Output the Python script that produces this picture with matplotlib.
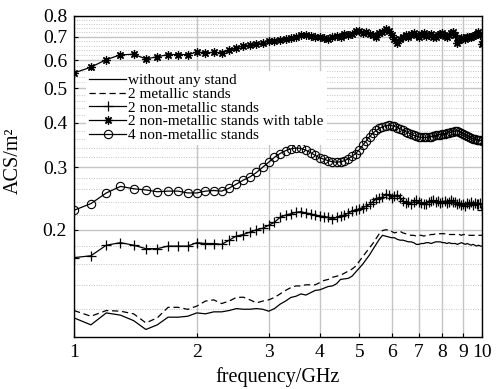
import numpy as np
import matplotlib
matplotlib.use('Agg')
import matplotlib.pyplot as plt
from matplotlib.ticker import FixedLocator, NullFormatter, FixedFormatter

plt.rcParams['font.family'] = ['Liberation Serif', 'DejaVu Serif']

# measurement grid, 1 GHz to 10 GHz in 0.1 GHz steps
freq = np.round(np.arange(1.0, 10.05, 0.1), 1)

# ACS (m^2)
no_stand = [
    .113, .108, .1167, .115, .111, .1048, .108, .1135, .1135, .1142,
    .1167, .116, .1175, .1175, .1185, .120, .1195, .1195, .120, .1195,
    .118, .120, .1235, .126, .129, .130, .132, .131, .133, .135,
    .1355, .137, .1385, .139, .141, .145, .1455, .146, .148, .152,
    .156, .160, .165, .170, .176, .182, .188, .193, .192, .191,
    .190, .190, .188, .187, .187, .186, .185, .185, .184, .182,
    .182, .183, .183, .184, .184, .183, .184, .185, .185, .185,
    .184, .184, .183, .184, .183, .183, .183, .182, .183, .184,
    .183, .182, .183, .182, .181, .182, .181, .180, .181, .180,
    .180]

metal_2 = [
    .1185, .1142, .1185, .118, .116, .1094, .113, .121, .121, .1194,
    .122, .126, .127, .124, .126, .129, .1292, .127, .1245, .126,
    .127, .129, .132, .135, .1375, .139, .139, .140, .140, .140,
    .142, .144, .145, .147, .148, .149, .151, .153, .155, .158,
    .163, .168, .173, .178, .183, .189, .195, .199, .200, .200,
    .198, .196, .197, .198, .196, .195, .194, .193, .193, .192,
    .193, .193, .192, .193, .193, .194, .194, .195, .195, .195,
    .195, .195, .194, .194, .194, .194, .194, .194, .194, .193,
    .194, .194, .194, .193, .193, .193, .193, .193, .193, .193,
    .193]

nonmetal_2 = [
    .167, .169, .181, .184, .181, .177, .177, .180, .180, .180,
    .184, .183, .183, .182, .187, .192, .194, .197, .200, .202,
    .206, .210, .217, .220, .222, .224, .225, .223, .222, .220,
    .219, .218, .217, .214, .217, .219, .220, .223, .226, .227,
    .229, .231, .233, .236, .240, .244, .246, .247, .252, .250,
    .246, .249, .251, .246, .241, .238, .240, .237, .240, .242,
    .240, .238, .236, .237, .239, .241, .242, .239, .241, .238,
    .240, .241, .238, .240, .242, .239, .240, .237, .238, .235,
    .236, .234, .238, .236, .239, .235, .238, .237, .236, .238,
    .228]

nonmetal_2_table = [
    .553, .574, .603, .622, .624, .606, .614, .623, .623, .623,
    .633, .630, .632, .630, .640, .649, .660, .662, .668, .672,
    .680, .682, .686, .690, .695, .700, .705, .708, .704, .700,
    .698, .695, .690, .697, .702, .698, .710, .705, .712, .725,
    .728, .715, .722, .712, .705, .700, .715, .722, .735, .725,
    .705, .690, .672, .690, .700, .705, .698, .712, .716, .705,
    .700, .710, .715, .702, .706, .712, .700, .696, .705, .712,
    .716, .702, .697, .708, .715, .720, .705, .672, .685, .692,
    .695, .690, .697, .700, .696, .702, .706, .712, .722, .708,
    .665]

nonmetal_4 = [
    .227, .237, .254, .265, .261, .259, .256, .257, .257, .254,
    .254, .257, .258, .257, .262, .269, .276, .282, .290, .300,
    .310, .320, .328, .334, .338, .340, .339, .335, .330, .324,
    .319, .316, .313, .311, .310, .311, .313, .317, .322, .328,
    .336, .346, .356, .366, .374, .381, .386, .390, .393, .394,
    .393, .391, .388, .385, .381, .378, .375, .372, .369, .367,
    .365, .364, .364, .364, .365, .366, .368, .369, .370, .371,
    .372, .373, .374, .375, .376, .378, .379, .380, .378, .375,
    .372, .369, .367, .365, .363, .361, .360, .359, .358, .357,
    .356]

labels = ['without any stand', '2 metallic stands', '2 non-metallic stands',
          '2 non-metallic stands with table', '4 non-metallic stands']

fig = plt.figure(figsize=(4.99, 3.89), dpi=100)
ax = fig.add_axes([0.1483, 0.1344, 0.8177, 0.8245])

lw = 0.9
ax.plot(freq, no_stand, 'k-', lw=lw, label=labels[0])
ax.plot(freq, metal_2, 'k--', lw=lw, dashes=(5, 3), label=labels[1])
ax.plot(freq, nonmetal_2, 'k-', lw=lw, marker='+', ms=7, mew=0.9, label=labels[2])
# asterisk-like marker
ax.plot(freq, nonmetal_2_table, 'k-', lw=lw, marker=(8, 2, 0), ms=6, mew=0.9,
        label=labels[3])
ax.plot(freq, nonmetal_4, 'k-', lw=lw, marker='o', ms=6, mew=0.8, mfc='none',
        label=labels[4])

ax.set_xscale('log')
ax.set_yscale('log')
ax.set_xlim(1, 10)
ax.set_ylim(0.1, 0.8)

xt = [1, 2, 3, 4, 5, 6, 7, 8, 9, 10]
ax.xaxis.set_major_locator(FixedLocator(xt))
ax.xaxis.set_major_formatter(FixedFormatter([str(v) for v in xt]))
ax.xaxis.set_minor_locator(FixedLocator([]))
ax.xaxis.set_minor_formatter(NullFormatter())

yt = [0.2, 0.3, 0.4, 0.5, 0.6, 0.7, 0.8]
ax.yaxis.set_major_locator(FixedLocator(yt))
ax.yaxis.set_major_formatter(FixedFormatter([f'{v:.1f}' for v in yt]))
ymin = [round(v, 2) for v in np.arange(0.12, 0.795, 0.02) if round(v, 2) not in yt]
ax.yaxis.set_minor_locator(FixedLocator(ymin))
ax.yaxis.set_minor_formatter(NullFormatter())

ax.grid(True, which='major', color='#c4c4c4', lw=1.0, ls='-')
ax.grid(True, which='minor', axis='y', color='#c4c4c4', lw=0.7, ls=(0, (1, 1.5)))
ax.set_axisbelow(True)

ax.tick_params(which='major', direction='in', length=3, labelsize=14, pad=5)
ax.tick_params(which='minor', length=0)
for s in ax.spines.values():
    s.set_linewidth(1.0)

ax.set_xlabel('frequency/GHz', fontsize=14.5)
ax.set_ylabel('ACS/m²', fontsize=14.5)
ax.xaxis.set_label_coords(0.5, -0.095)
ax.yaxis.set_label_coords(-0.125, 0.55)

leg = ax.legend(loc='upper left', bbox_to_anchor=(0.03, 0.83), borderaxespad=0,
                fontsize=11, numpoints=1, handlelength=2.4, handletextpad=0.15,
                labelspacing=0.0, borderpad=0.2, frameon=True, fancybox=False)
leg.get_frame().set_facecolor('white')
leg.get_frame().set_edgecolor('none')
leg.get_frame().set_alpha(1)

fig.savefig('out.png', dpi=100)
